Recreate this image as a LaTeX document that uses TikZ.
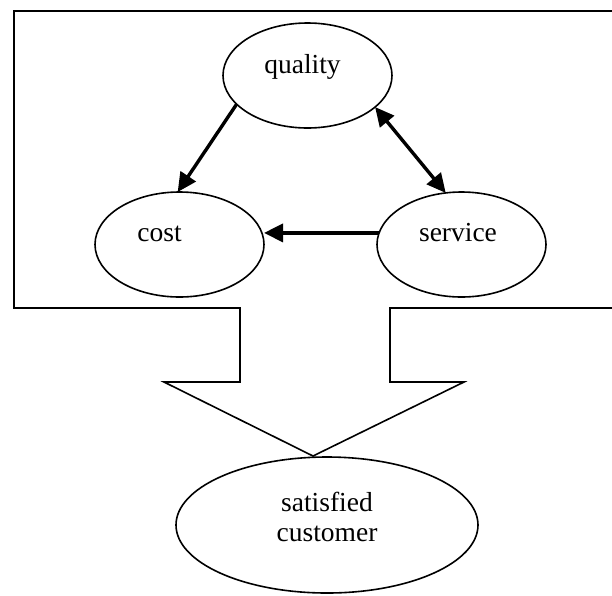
\documentclass[tikz,border=0pt]{standalone}
\usepackage{fontspec}
\setmainfont{Liberation Serif}
\usetikzlibrary{shapes.geometric,arrows.meta}

\tikzset{
  oval/.style={ellipse, draw, line width=1.6pt, inner sep=0pt, outer sep=0pt},
  label text/.style={inner sep=0pt, anchor=base, font=\fontsize{27.5}{30.5}\selectfont},
  tip/.tip={Triangle[length=19pt, width=18pt]},
  link/.style={line width=3.4pt, -tip},
  twoway/.style={line width=3.4pt, tip-tip},
  frame/.style={draw, line width=1.6pt, line join=miter}
}

\begin{document}
\begin{tikzpicture}[x=1pt, y=-1pt]
  \useasboundingbox (0,0) rectangle (612,595);
  \clip (0,0) rectangle (612,595);

  % enclosing frame that narrows into a downward block arrow
  \draw[frame] (14,11) -- (630,11) -- (630,308) -- (390,308) -- (390,382)
    -- (464,382) -- (313,456) -- (164,382) -- (240,382) -- (240,308)
    -- (14,308) -- cycle;

  % the three factors
  \node[oval, minimum width=169pt, minimum height=105pt] (quality) at (307.5,75.5) {};
  \node[oval, minimum width=169pt, minimum height=105pt] (cost) at (179.5,244.5) {};
  \node[oval, minimum width=169pt, minimum height=105pt] (service) at (461.5,244.5) {};

  % result
  \node[oval, minimum width=302pt, minimum height=136pt] (customer) at (327,525) {};

  % texts
  \node[label text] (quality-text) at (302.5,73.3) {quality};
  \node[label text] (cost-text) at (159.5,241.7) {cost};
  \node[label text] (service-text) at (458,241.7) {service};
  \node[label text] (customer-text) at (327,511)
    {\begin{tabular}[t]{@{}c@{}}satisfied\\customer\end{tabular}};

  % relations between the factors
  \draw[link] (quality.202) -- (cost.92);
  \draw[twoway] (quality.335.6) -- (service.107.4);
  \draw[link] (service.172) -- (cost.east |- service.172);
\end{tikzpicture}
\end{document}
